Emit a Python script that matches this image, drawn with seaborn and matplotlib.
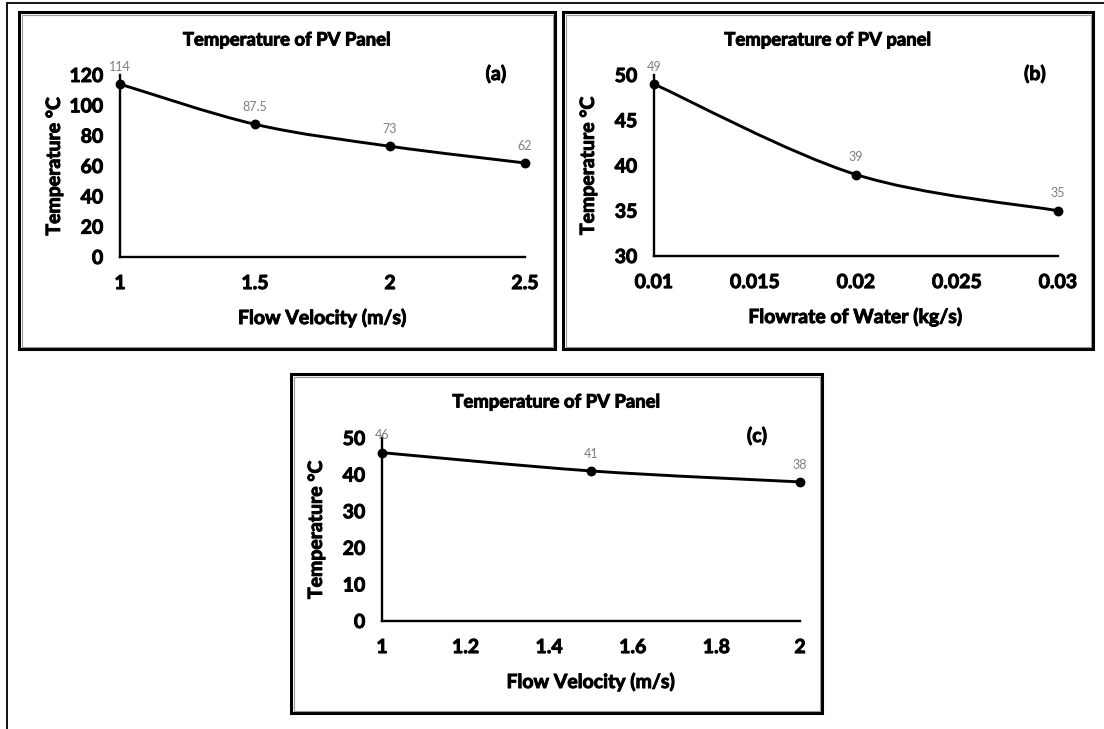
import numpy as np
import pandas as pd
import matplotlib
matplotlib.use("Agg")
import matplotlib.pyplot as plt
from matplotlib.path import Path
from matplotlib.patches import PathPatch, Rectangle
from matplotlib.lines import Line2D
import matplotlib.patheffects as pe
import seaborn as sns

# ---------------- data ----------------
vel_a = [1.0, 1.5, 2.0, 2.5]
temp_a = [114, 87.5, 73, 62]
lab_a = ["114", "87.5", "73", "62"]

flow_b = [0.01, 0.02, 0.03]
temp_b = [49, 39, 35]
lab_b = ["49", "39", "35"]

vel_c = [1.0, 1.5, 2.0]
temp_c = [46, 41, 38]
lab_c = ["46", "41", "38"]

xticks_a = [1, 1.5, 2, 2.5]
xticklabels_a = ["1", "1.5", "2", "2.5"]
yticks_a = [0, 20, 40, 60, 80, 100, 120]

xticks_b = [0.01, 0.015, 0.02, 0.025, 0.03]
xticklabels_b = ["0.01", "0.015", "0.02", "0.025", "0.03"]
yticks_b = [30, 35, 40, 45, 50]

xticks_c = [1, 1.2, 1.4, 1.6, 1.8, 2]
xticklabels_c = ["1", "1.2", "1.4", "1.6", "1.8", "2"]
yticks_c = [0, 10, 20, 30, 40, 50]

titles = ["Temperature of PV Panel", "Temperature of PV panel", "Temperature of PV Panel"]
xlabels = ["Flow Velocity (m/s)", "Flowrate of Water (kg/s)", "Flow Velocity (m/s)"]
ylabel = "Temperature °C"
tags = ["(a)", "(b)", "(c)"]

# ---------------- style ----------------
sns.set_theme(style="white")
plt.rcParams["font.family"] = ["Lato", "DejaVu Sans"]

W, H = 1104, 729
fig = plt.figure(figsize=(W / 100, H / 100), dpi=100)
fig.patch.set_facecolor("white")

BOLDER = [pe.withStroke(linewidth=0.7, foreground="black")]


def fx(px):
    return px / W


def fy(py):
    return 1 - py / H


def smooth_path(xs, ys):
    pts = np.column_stack([xs, ys]).astype(float)
    n = len(pts)
    verts = [pts[0]]
    codes = [Path.MOVETO]
    for i in range(n - 1):
        p0 = pts[i - 1] if i > 0 else pts[i]
        p1 = pts[i]
        p2 = pts[i + 1]
        p3 = pts[i + 2] if i + 2 < n else pts[i + 1]
        c1 = p1 + (p2 - p0) / 6.0
        c2 = p2 - (p3 - p1) / 6.0
        verts += [c1, c2, p2]
        codes += [Path.CURVE4] * 3
    return Path(verts, codes)


# panel boxes (pixels): x0, y0, x1, y1
boxes = [(19, 12, 555, 349), (563, 12, 1093, 349), (291, 374, 822, 713)]
# axes rectangles (pixels): left, top, right, bottom
axes_px = [(120, 75, 525, 257), (654, 75, 1058, 256), (382, 438, 800, 621)]
tag_pos = [(496, 74), (1035, 74), (757, 436)]

datasets = [
    (vel_a, temp_a, lab_a, xticks_a, xticklabels_a, yticks_a, (1, 2.5), (0, 120)),
    (flow_b, temp_b, lab_b, xticks_b, xticklabels_b, yticks_b, (0.01, 0.03), (30, 50)),
    (vel_c, temp_c, lab_c, xticks_c, xticklabels_c, yticks_c, (1, 2), (0, 50)),
]

TICK_FS = 14
LAB_FS = 14
TITLE_FS = 13.3

for k, (xs, ys, labs, xt, xtl, yt, xl, yl) in enumerate(datasets):
    # frame
    x0, y0, x1, y1 = boxes[k]
    fig.patches.append(Rectangle((fx(x0), fy(y1)), fx(x1 - x0), (y1 - y0) / H,
                                 transform=fig.transFigure, fill=False,
                                 edgecolor="black", linewidth=2.2, zorder=0))
    fig.patches.append(Rectangle((fx(x0 + 2.5), fy(y1 - 2.5)), fx(x1 - x0 - 5), (y1 - y0 - 5) / H,
                                 transform=fig.transFigure, fill=False,
                                 edgecolor="#9a9a9a", linewidth=0.8, zorder=0))

    l, t, r, b = axes_px[k]
    ax = fig.add_axes([fx(l), fy(b), fx(r - l), (b - t) / H])
    ax.set_facecolor("none")
    df = pd.DataFrame({"x": xs, "y": ys})

    patch = PathPatch(smooth_path(xs, ys), facecolor="none", edgecolor="black",
                      linewidth=2.1, clip_on=False, zorder=3)
    ax.add_patch(patch)
    sns.scatterplot(data=df, x="x", y="y", ax=ax, color="black", s=50,
                    edgecolor="black", linewidth=0, zorder=4, clip_on=False, legend=False)

    for xv, yv, s in zip(xs, ys, labs):
        ax.annotate(s, (xv, yv), xytext=(0, 12.5), textcoords="offset points",
                    ha="center", va="center", fontsize=9, color="#7f7f7f")

    ax.set_xlim(*xl)
    ax.set_ylim(*yl)
    ax.set_xticks(xt)
    ax.set_xticklabels(xtl)
    ax.set_yticks(yt)
    ax.set_yticklabels([str(v) for v in yt])
    ax.tick_params(axis="both", length=0, labelsize=TICK_FS, colors="black")
    ax.tick_params(axis="x", pad=13)
    ax.tick_params(axis="y", pad=12)
    for lab in ax.get_xticklabels() + ax.get_yticklabels():
        lab.set_fontweight("bold")
        lab.set_path_effects(BOLDER)
    for side in ["top", "right"]:
        ax.spines[side].set_visible(False)
    for side in ["left", "bottom"]:
        ax.spines[side].set_color("black")
        ax.spines[side].set_linewidth(1.7)
    ax.set_xlabel("")
    ax.set_ylabel("")
    ax.grid(False)

    # texts
    fig.text(fx((x0 + x1) / 2), fy(y0 + 28), titles[k], ha="center", va="center",
             fontsize=TITLE_FS, fontweight="bold", color="black", path_effects=BOLDER)
    fig.text(fx((l + r) / 2), fy(b + 61), xlabels[k], ha="center", va="center",
             fontsize=LAB_FS, fontweight="bold", color="black", path_effects=BOLDER)
    fig.text(fx(l - 66), fy((t + b) / 2), ylabel, ha="center", va="center", rotation=90,
             fontsize=LAB_FS, fontweight="bold", color="black", path_effects=BOLDER)
    fig.text(fx(tag_pos[k][0]), fy(tag_pos[k][1]), tags[k], ha="center", va="center",
             fontsize=TICK_FS, fontweight="bold", color="black", path_effects=BOLDER)

# outer frame lines
fig.add_artist(Line2D([fx(7), 1.0], [fy(3), fy(3)], transform=fig.transFigure,
                      color="black", linewidth=1.3))
fig.add_artist(Line2D([fx(7), fx(7)], [fy(3), 0.0], transform=fig.transFigure,
                      color="black", linewidth=1.3))

fig.savefig("out.png", dpi=100, facecolor="white")
